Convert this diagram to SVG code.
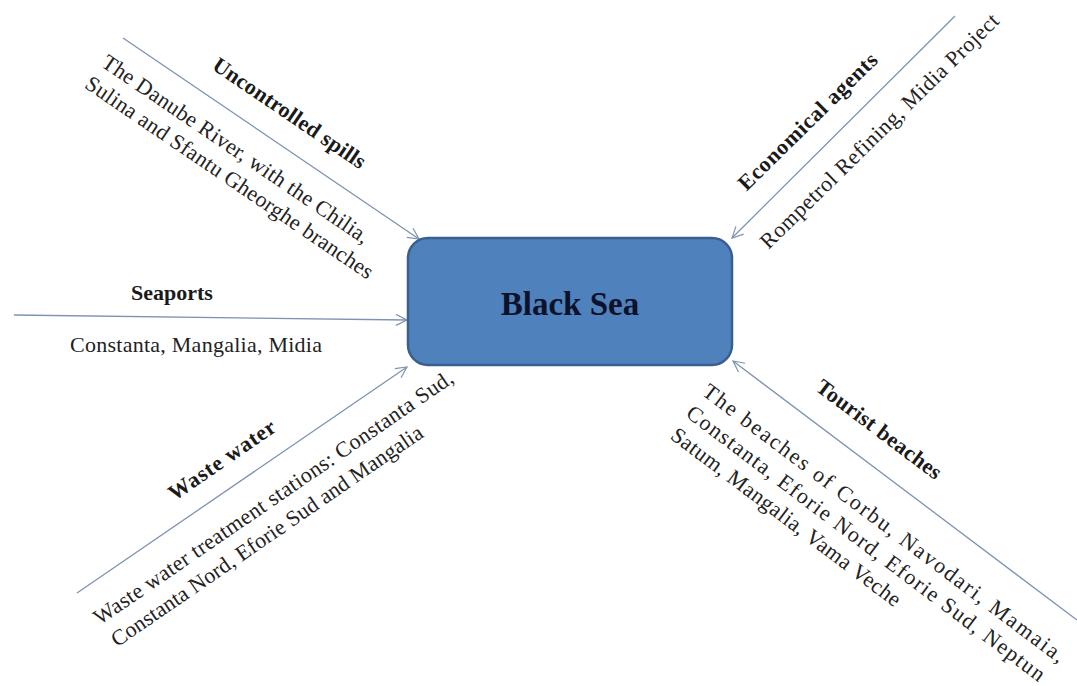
<svg xmlns="http://www.w3.org/2000/svg" width="1077" height="686" viewBox="0 0 1077 686">
<style>
.h{font-family:"Liberation Serif","Times New Roman",serif;font-weight:bold;font-size:22px;fill:#1a1a1a}
.d{font-family:"Liberation Serif","Times New Roman",serif;font-size:22px;fill:#222}
.c{stroke:#7d93b2;stroke-width:1.3;fill:none;marker-end:url(#arr)}
</style>
<defs>
<marker id="arr" markerWidth="14" markerHeight="14" refX="12" refY="6" orient="auto" markerUnits="userSpaceOnUse">
<path d="M1,0.5 L12,6 L1,11.5" fill="none" stroke="#7d93b2" stroke-width="1.2"/>
</marker>
</defs>
<rect width="1077" height="686" fill="#ffffff"/>
<g id="connectors">
<line class="c" x1="123" y1="38" x2="419" y2="239"/>
<line class="c" x1="955" y1="16" x2="732" y2="238"/>
<line class="c" x1="14" y1="315" x2="407" y2="320"/>
<line class="c" x1="77" y1="593" x2="407" y2="367"/>
<line class="c" x1="1077" y1="620" x2="733" y2="361"/>
</g>
<g id="black-sea">
<rect x="408" y="238" width="324" height="127" rx="20" fill="#4f81bd" stroke="#3a5f8e" stroke-width="2.5"/>
<text x="570" y="315" text-anchor="middle" style="font-family:'Liberation Serif','Times New Roman',serif;font-weight:bold;font-size:33px;fill:#0c1229">Black Sea</text>
</g>
<g id="uncontrolled-spills" transform="rotate(34.2)">
<text class="h" x="213" y="-62" textLength="180" lengthAdjust="spacing">Uncontrolled spills</text>
<text class="d" x="120" y="-2" textLength="318" lengthAdjust="spacing">The Danube River, with the Chilia,</text>
<text class="d" x="118" y="25" textLength="343" lengthAdjust="spacing">Sulina and Sfantu Gheorghe branches</text>
</g>
<g id="economical-agents" transform="rotate(-44.5)">
<text class="h" x="398" y="660" textLength="186" lengthAdjust="spacing">Economical agents</text>
<text class="d" x="373" y="717" textLength="325" lengthAdjust="spacing">Rompetrol Refining, Midia Project</text>
</g>
<g id="seaports">
<text class="h" x="172" y="300" text-anchor="middle">Seaports</text>
<text class="d" x="70" y="352" textLength="252" lengthAdjust="spacing">Constanta, Mangalia, Midia</text>
</g>
<g id="waste-water" transform="rotate(-34.5)">
<text class="h" x="-140" y="512" textLength="125" lengthAdjust="spacing">Waste water</text>
<text class="d" x="-272" y="572" textLength="431" lengthAdjust="spacing">Waste water treatment stations: Constanta Sud,</text>
<text class="d" x="-270" y="600" textLength="373" lengthAdjust="spacing">Constanta Nord, Eforie Sud and Mangalia</text>
</g>
<g id="tourist-beaches" transform="rotate(37)">
<text class="h" x="885" y="-179" textLength="151" lengthAdjust="spacing">Tourist beaches</text>
<text class="d" x="797" y="-107" textLength="448" lengthAdjust="spacing">The beaches of Corbu, Navodari, Mamaia,</text>
<text class="d" x="797" y="-80" textLength="443" lengthAdjust="spacing">Constanta, Eforie Nord, Eforie Sud, Neptun</text>
<text class="d" x="798" y="-53" textLength="282" lengthAdjust="spacing">Satum, Mangalia, Vama Veche</text>
</g>
</svg>
